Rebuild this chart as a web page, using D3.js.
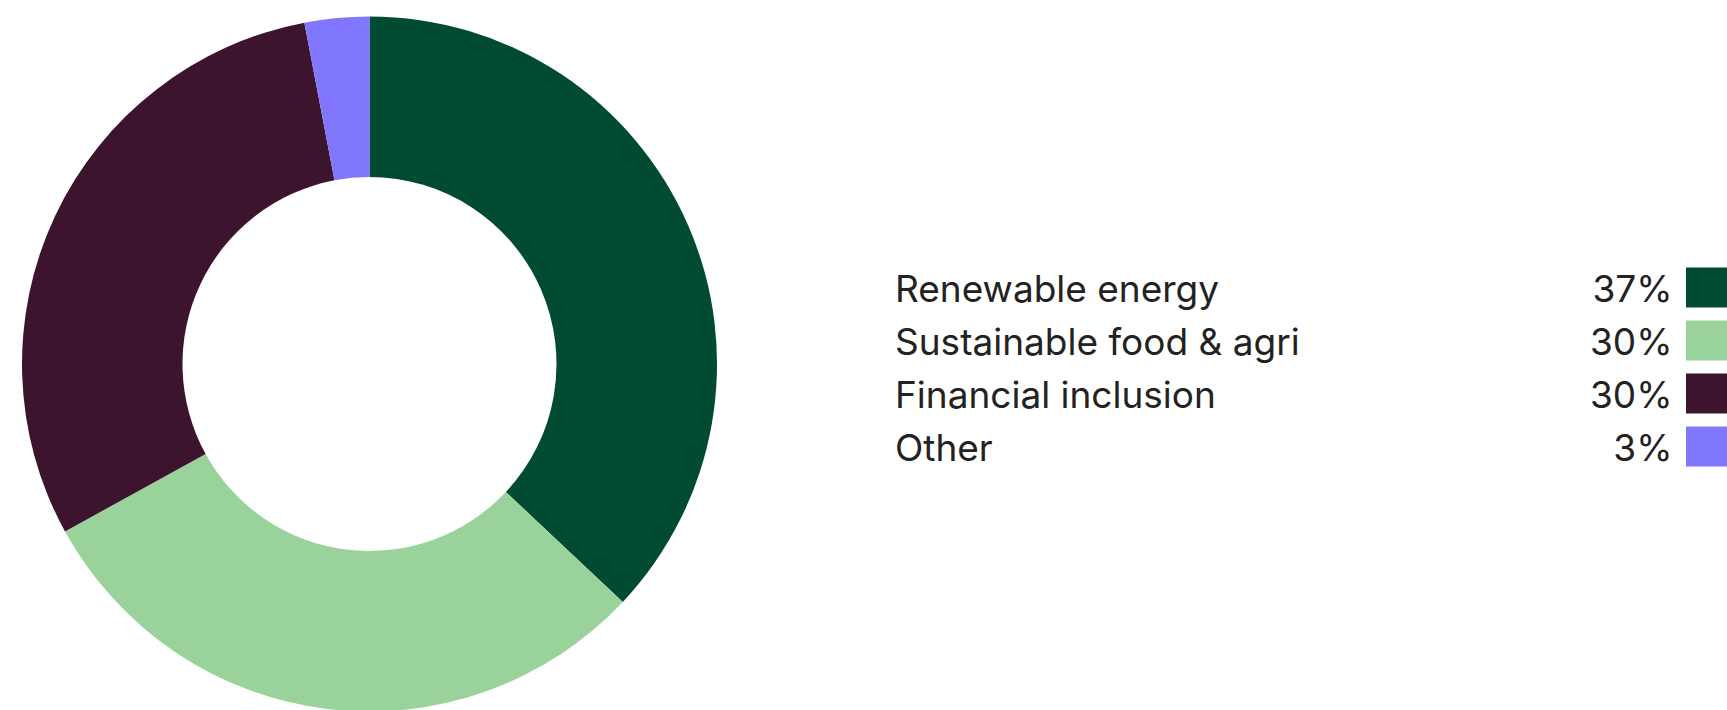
<!DOCTYPE html>
<html>
<head>
<meta charset="utf-8">
<script src="https://cdn.jsdelivr.net/npm/d3@7"></script>
<style>
  html, body { margin: 0; padding: 0; background: #fff; }
  svg { display: block; }
</style>
</head>
<body>
<svg id="chart" width="1727" height="710"></svg>
<script>
const categories = ["Renewable energy", "Sustainable food & agri", "Financial inclusion", "Other"];
const values = [37, 30, 30, 3];
const valueLabels = ["37%", "30%", "30%", "3%"];
const colors = ["#024b33", "#99d39b", "#3c142e", "#8177ff"];

const svg = d3.select("#chart");
const data = categories.map((c, i) => ({ name: c, value: values[i], label: valueLabels[i], color: colors[i] }));

const pie = d3.pie().sort(null).value(d => d.value).startAngle(0).endAngle(2 * Math.PI);
const arc = d3.arc().innerRadius(187).outerRadius(347.5);

const g = svg.append("g").attr("transform", "translate(369.5,364)");
g.selectAll("path")
  .data(pie(data))
  .join("path")
  .attr("d", arc)
  .attr("fill", d => d.data.color);

// Legend
const rowY = d3.scaleBand().domain(categories).range([267.5, 267.5 + 4 * 53]).paddingInner(0);
const legend = svg.append("g");
const rows = legend.selectAll("g.row")
  .data(data)
  .join("g")
  .attr("class", "row")
  .attr("transform", d => `translate(0,${rowY(d.name)})`);

rows.append("text")
  .attr("x", 895)
  .attr("y", 34.5)
  .attr("font-family", "Inter, 'Noto Sans', sans-serif")
  .attr("font-size", 37)
  .attr("fill", "#222")
  .text(d => d.name);

rows.append("text")
  .attr("x", 1672.5)
  .attr("y", 34.5)
  .attr("text-anchor", "end")
  .attr("font-family", "Inter, 'Noto Sans', sans-serif")
  .attr("font-size", 37)
  .attr("fill", "#222")
  .text(d => d.label);

rows.append("rect")
  .attr("x", 1686)
  .attr("y", 0)
  .attr("width", 41)
  .attr("height", 40)
  .attr("fill", d => d.color);
</script>
</body>
</html>
